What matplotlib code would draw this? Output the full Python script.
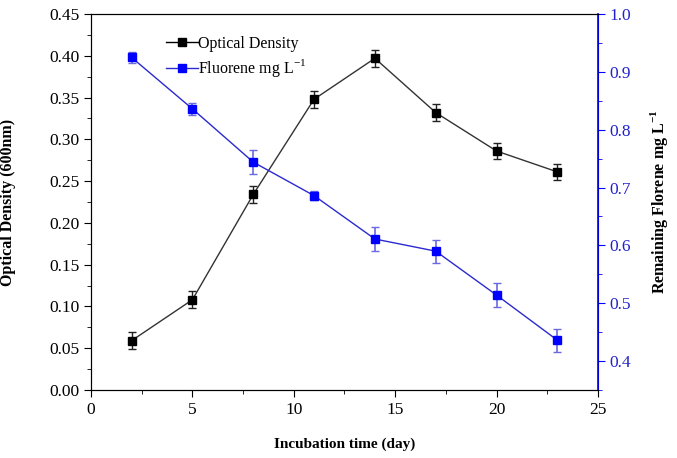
import numpy as np
import matplotlib
matplotlib.use('Agg')
import matplotlib.pyplot as plt
from matplotlib.ticker import MultipleLocator, FormatStrFormatter
from matplotlib.lines import Line2D

plt.rcParams['font.family'] = 'Liberation Serif'
plt.rcParams['mathtext.fontset'] = 'custom'
plt.rcParams['mathtext.rm'] = 'Liberation Serif'
plt.rcParams['mathtext.bf'] = 'Liberation Serif:bold'
plt.rcParams['axes.unicode_minus'] = False

# datos
dias = [2, 5, 8, 11, 14, 17, 20, 23]
od = [0.059, 0.108, 0.234, 0.348, 0.397, 0.332, 0.286, 0.261]
od_err = [0.010, 0.010, 0.010, 0.010, 0.010, 0.010, 0.010, 0.010]
fluoreno = [0.925, 0.836, 0.744, 0.686, 0.611, 0.590, 0.514, 0.436]
fluoreno_err = [0.010, 0.010, 0.021, 0.008, 0.020, 0.020, 0.021, 0.020]

azul = '#0000ff'
fig = plt.figure(figsize=(6.77, 4.58), dpi=100)
ax = fig.add_axes([0.1344, 0.1485, 0.7489, 0.8209])
ax2 = ax.twinx()

ax.errorbar(dias, od, yerr=od_err, color='#333333', lw=1, marker='s', ms=6,
            mfc='black', mec='black', ecolor='#222222', elinewidth=1, capsize=3)
ax2.errorbar(dias, fluoreno, yerr=fluoreno_err, color='#2a2ad0', lw=1, marker='s', ms=6,
             mfc=azul, mec=azul, ecolor='#6a6ae0', elinewidth=1.2, capsize=3)

ax.set_xlim(0, 25)
ax.set_ylim(0, 0.45)
ax2.set_ylim(0.35, 1.0)
ax.xaxis.set_major_locator(MultipleLocator(5))
ax.xaxis.set_minor_locator(MultipleLocator(2.5))
ax.yaxis.set_major_locator(MultipleLocator(0.05))
ax.yaxis.set_minor_locator(MultipleLocator(0.025))
ax.yaxis.set_major_formatter(FormatStrFormatter('%.2f'))
ax2.yaxis.set_major_locator(MultipleLocator(0.1))
ax2.yaxis.set_minor_locator(MultipleLocator(0.05))
ax2.yaxis.set_major_formatter(FormatStrFormatter('%.1f'))

ax.tick_params(which='major', direction='out', length=5, labelsize=12.5, top=False)
ax.tick_params(which='minor', direction='out', length=3, top=False)
ax2.tick_params(which='major', direction='out', length=5, labelsize=12.5, colors=azul)
ax2.tick_params(which='minor', direction='out', length=3, colors=azul)
ax2.tick_params(axis='y', labelcolor='#2222cc')
ax2.spines['right'].set_color(azul)
ax2.spines['right'].set_linewidth(1.2)

ax.set_xlabel('Incubation time (day)', fontweight='bold', fontsize=11, labelpad=14)
ax.set_ylabel('Optical Density (600nm)', fontweight='bold', fontsize=11.5, labelpad=24)
ax2.set_ylabel('Remaining Florene mg L$^{\\mathbf{-1}}$', fontweight='bold', fontsize=11.5,
               labelpad=12, rotation=90)

h1 = Line2D([], [], color='black', lw=1, marker='s', ms=6)
h2 = Line2D([], [], color='#2a2ad0', lw=1, marker='s', ms=6, mfc=azul, mec=azul)
ax.legend([h1, h2], ['Optical Density', 'Fluorene mg L$^{-1}$'], loc='upper left',
          bbox_to_anchor=(0.12, 0.98), frameon=False, fontsize=11.5, handlelength=2.0,
          handletextpad=0.0, labelspacing=0.35)

fig.savefig('out.png', dpi=100)
